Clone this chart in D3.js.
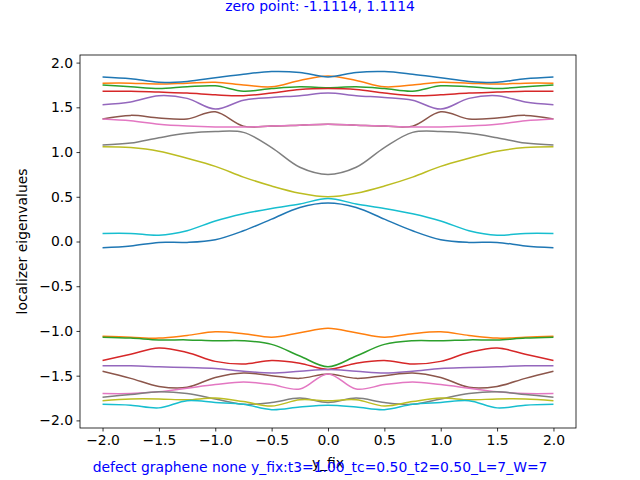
<!DOCTYPE html>
<html><head><meta charset="utf-8">
<script src="https://cdn.jsdelivr.net/npm/d3@7"></script>
<style>body{margin:0;background:#fff}text{font-family:"DejaVu Sans",sans-serif}</style>
</head><body><svg id="chart"></svg>
<script>
const yfix = [-2,-1.75,-1.5,-1.25,-1,-0.75,-0.5,-0.25,0,0.25,0.5,0.75,1,1.25,1.5,1.75,2];
const xTicks = [-2,-1.5,-1,-0.5,0,0.5,1,1.5,2];
const yTicks = [-2,-1.5,-1,-0.5,0,0.5,1,1.5,2];
const colors = ["#1f77b4","#ff7f0e","#2ca02c","#d62728","#9467bd","#8c564b","#e377c2","#7f7f7f","#bcbd22","#17becf"];

// lower band (colors from orange onward), then upper band
const lowSeries = [
  [-1.06,-1.07,-1.08,-1.05,-1.01,-1.03,-1.07,-1.02,-0.97,-1.02,-1.07,-1.03,-1.01,-1.05,-1.08,-1.07,-1.06],
  [-1.07,-1.08,-1.10,-1.10,-1.11,-1.11,-1.15,-1.28,-1.40,-1.28,-1.15,-1.11,-1.11,-1.10,-1.10,-1.08,-1.07],
  [-1.33,-1.26,-1.19,-1.24,-1.34,-1.37,-1.33,-1.36,-1.43,-1.36,-1.33,-1.37,-1.34,-1.24,-1.19,-1.26,-1.33],
  [-1.39,-1.39,-1.40,-1.41,-1.42,-1.45,-1.47,-1.45,-1.43,-1.45,-1.47,-1.45,-1.42,-1.41,-1.40,-1.39,-1.39],
  [-1.45,-1.53,-1.62,-1.63,-1.52,-1.47,-1.50,-1.53,-1.48,-1.53,-1.50,-1.47,-1.52,-1.63,-1.62,-1.53,-1.45],
  [-1.70,-1.70,-1.68,-1.64,-1.60,-1.57,-1.60,-1.65,-1.48,-1.65,-1.60,-1.57,-1.60,-1.64,-1.68,-1.70,-1.70],
  [-1.74,-1.71,-1.68,-1.70,-1.76,-1.82,-1.80,-1.75,-1.80,-1.75,-1.80,-1.82,-1.76,-1.70,-1.68,-1.71,-1.74],
  [-1.78,-1.76,-1.76,-1.77,-1.75,-1.79,-1.84,-1.77,-1.78,-1.77,-1.84,-1.79,-1.75,-1.77,-1.76,-1.76,-1.78],
  [-1.82,-1.83,-1.86,-1.78,-1.80,-1.82,-1.88,-1.85,-1.83,-1.85,-1.88,-1.82,-1.80,-1.78,-1.86,-1.83,-1.82]
];
const lowColors = [1,2,3,4,5,6,7,8,9];
const highSeries = [
  [-0.07,-0.05,-0.01,-0.01,0.02,0.12,0.25,0.38,0.43,0.38,0.25,0.12,0.02,-0.01,-0.01,-0.05,-0.07],
  [1.77,1.77,1.76,1.77,1.78,1.75,1.73,1.80,1.85,1.80,1.73,1.75,1.78,1.77,1.76,1.77,1.77],
  [1.75,1.73,1.71,1.73,1.74,1.68,1.71,1.73,1.72,1.73,1.71,1.68,1.74,1.73,1.71,1.73,1.75],
  [1.68,1.68,1.67,1.66,1.64,1.63,1.66,1.70,1.71,1.70,1.66,1.63,1.64,1.66,1.67,1.68,1.68],
  [1.53,1.56,1.63,1.60,1.48,1.58,1.61,1.63,1.66,1.63,1.61,1.58,1.48,1.60,1.63,1.56,1.53],
  [1.37,1.41,1.38,1.37,1.45,1.29,1.29,1.30,1.31,1.30,1.29,1.29,1.45,1.37,1.38,1.41,1.37],
  [1.37,1.35,1.31,1.29,1.28,1.28,1.29,1.30,1.31,1.30,1.29,1.28,1.28,1.29,1.31,1.35,1.37],
  [1.08,1.10,1.16,1.21,1.23,1.22,1.05,0.83,0.75,0.83,1.05,1.22,1.23,1.21,1.16,1.10,1.08],
  [1.06,1.05,1.01,0.93,0.84,0.72,0.62,0.54,0.50,0.54,0.62,0.72,0.84,0.93,1.01,1.05,1.06],
  [0.09,0.09,0.07,0.12,0.23,0.31,0.37,0.42,0.48,0.42,0.37,0.31,0.23,0.12,0.07,0.09,0.09],
  [1.84,1.82,1.78,1.79,1.83,1.87,1.90,1.89,1.84,1.89,1.90,1.87,1.83,1.79,1.78,1.82,1.84]
];
const highColors = [0,1,2,3,4,5,6,7,8,9,0];

const W = 640, H = 480;
const margin = {top: 55, right: 64, bottom: 52, left: 80};
const svg = d3.select("#chart").attr("width", W).attr("height", H);

const x = d3.scaleLinear().domain([-2.2, 2.2]).range([margin.left, W - margin.right]);
const y = d3.scaleLinear().domain([-2.085, 2.085]).range([H - margin.bottom, margin.top]);

const line = d3.line().x((d, i) => x(yfix[i])).y(d => y(d)).curve(d3.curveCatmullRom);

const all = lowSeries.map((s, i) => [s, lowColors[i]])
  .concat(highSeries.map((s, i) => [s, highColors[i]]));
for (const [s, c] of all) {
  svg.append("path").datum(s)
    .attr("fill", "none")
    .attr("stroke", colors[c])
    .attr("stroke-width", 1.5)
    .attr("d", line);
}

svg.append("g").attr("transform", `translate(0,${H - margin.bottom})`)
  .call(d3.axisBottom(x).tickValues(xTicks).tickFormat(d3.format(".1f")).tickSize(3.5).tickPadding(3.5))
  .call(g => g.select(".domain").remove());
svg.append("g").attr("transform", `translate(${margin.left},0)`)
  .call(d3.axisLeft(y).tickValues(yTicks).tickFormat(d3.format(".1f")).tickSize(3.5).tickPadding(3.5))
  .call(g => g.select(".domain").remove());
svg.selectAll(".tick text").attr("font-size", 13.9).attr("fill", "#000")
  .style("font-family", "DejaVu Sans");
svg.selectAll(".tick line").attr("stroke", "#000").attr("stroke-width", 0.8);

svg.append("rect")
  .attr("x", margin.left).attr("y", margin.top)
  .attr("width", W - margin.left - margin.right)
  .attr("height", H - margin.top - margin.bottom)
  .attr("fill", "none").attr("stroke", "#000").attr("stroke-width", 0.8);

svg.append("text").attr("x", 320).attr("y", 11).attr("text-anchor", "middle")
  .attr("font-size", 13.9).attr("fill", "blue").text("zero point: -1.1114, 1.1114");
svg.append("text").attr("x", x(0)).attr("y", 468).attr("text-anchor", "middle")
  .attr("font-size", 13.9).text("y_fix");
svg.append("text").attr("x", 320).attr("y", 472).attr("text-anchor", "middle")
  .attr("font-size", 13.9).attr("fill", "blue")
  .text("defect graphene none y_fix:t3=1.00_tc=0.50_t2=0.50_L=7_W=7");
svg.append("text").attr("transform", `translate(27,${(margin.top + H - margin.bottom) / 2}) rotate(-90)`)
  .attr("text-anchor", "middle").attr("font-size", 13.9).text("localizer eigenvalues");
</script></body></html>
